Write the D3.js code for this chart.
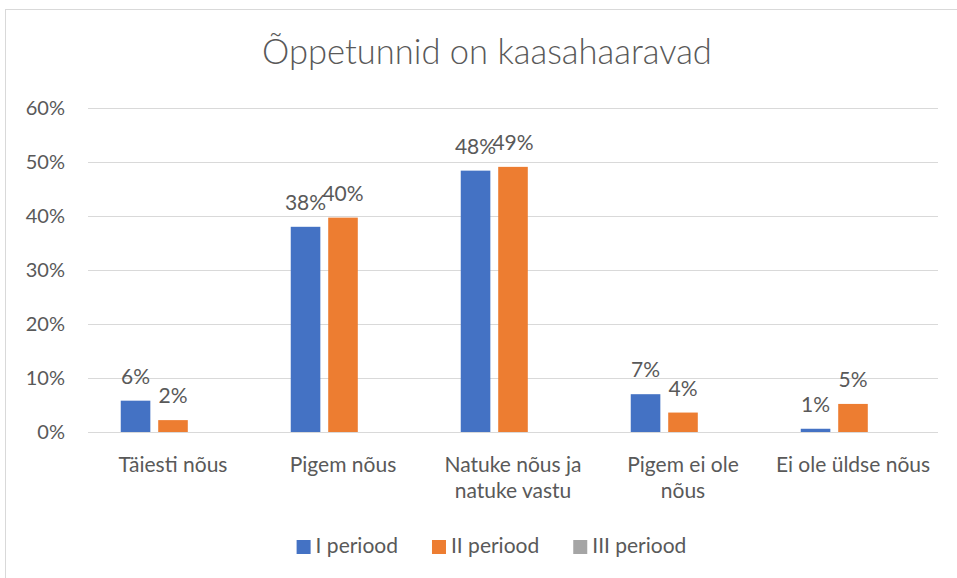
<!DOCTYPE html>
<html>
<head>
<meta charset="utf-8">
<script src="https://cdn.jsdelivr.net/npm/d3@7"></script>
<style>
  body { margin: 0; background: #fff; }
  text { font-family: Lato, "Noto Sans", sans-serif; fill: #595959; }
</style>
</head>
<body>
<div id="chart"></div>
<script>
// chart data
const categories = [
  ["Täiesti nõus"],
  ["Pigem nõus"],
  ["Natuke nõus ja", "natuke vastu"],
  ["Pigem ei ole", "nõus"],
  ["Ei ole üldse nõus"]
];
const seriesNames = ["I periood", "II periood", "III periood"];
const periood1 = [0.058, 0.38, 0.484, 0.07, 0.006];
const periood2 = [0.022, 0.397, 0.491, 0.036, 0.052];
const periood3 = [null, null, null, null, null];
const yTicks = [0, 0.1, 0.2, 0.3, 0.4, 0.5, 0.6];
const colors = ["#4472C4", "#ED7D31", "#A5A5A5"];

const W = 957, H = 578;
const plot = {left: 88, right: 938, top: 108, bottom: 432};

const svg = d3.select("#chart").append("svg")
  .attr("width", W).attr("height", H);

// chart border
svg.append("rect")
  .attr("x", 5.5).attr("y", 9.5)
  .attr("width", 1000).attr("height", 1000)
  .attr("fill", "none").attr("stroke", "#d9d9d9");

// title
svg.append("text")
  .attr("x", 487).attr("y", 64)
  .attr("text-anchor", "middle")
  .style("font-size", "34.5px")
  .style("font-weight", 300)
  .text("Õppetunnid on kaasahaaravad");

let y = d3.scaleLinear().domain([0, 0.6]).range([plot.bottom, plot.top]);
let x0 = d3.scaleBand().domain(d3.range(categories.length))
  .range([plot.left, plot.right]).padding(0);

// gridlines
svg.append("g").selectAll("line")
  .data(yTicks).enter().append("line")
    .attr("x1", plot.left).attr("x2", plot.right)
    .attr("y1", d => Math.round(y(d)) + 0.5)
    .attr("y2", d => Math.round(y(d)) + 0.5)
    .attr("stroke", "#d9d9d9").attr("stroke-width", 1);

// y tick labels
svg.append("g").selectAll("text")
  .data(yTicks).enter().append("text")
    .attr("x", 65).attr("y", d => y(d) + 7)
    .attr("text-anchor", "end")
    .style("font-size", "20px")
    .text(d => d3.format(".0%")(d));

const allSeries = [periood1, periood2, periood3];

categories.forEach((cat, i) => {
  let cx = x0(i) + x0.bandwidth() / 2;
  let x1 = d3.scaleBand().domain(d3.range(seriesNames.length))
    .range([cx - 52.25, cx + 52.25]).paddingInner(0.21).paddingOuter(0);

  allSeries.forEach((vals, s) => {
    let v = vals[i];
    if (v == null) return;
    svg.append("rect")
      .attr("x", x1(s)).attr("y", y(v))
      .attr("width", x1.bandwidth()).attr("height", y(0) - y(v))
      .attr("fill", colors[s]);
    svg.append("text")
      .attr("x", x1(s) + x1.bandwidth() / 2)
      .attr("y", y(v) - 17)
      .attr("text-anchor", "middle")
      .style("font-size", "21px")
      .text(d3.format(".0%")(v));
  });

  // category label
  let t = svg.append("text")
    .attr("text-anchor", "middle")
    .style("font-size", "21px");
  cat.forEach((line, j) => {
    t.append("tspan").attr("x", cx).attr("y", 471.5 + j * 26).text(line);
  });
});

// legend
let legend = svg.append("g");
let lx = 0;
const legendGap = 34;
seriesNames.forEach((name, s) => {
  let g = legend.append("g").attr("transform", `translate(${lx},0)`);
  g.append("rect").attr("x", 0).attr("y", 540).attr("width", 14).attr("height", 14)
    .attr("fill", colors[s]);
  let txt = g.append("text").attr("x", 19).attr("y", 553)
    .style("font-size", "21px").text(name);
  lx += 19 + txt.node().getComputedTextLength() + legendGap;
});
let legendWidth = lx - legendGap;
legend.attr("transform", `translate(${491.5 - legendWidth / 2},0)`);
</script>
</body>
</html>
